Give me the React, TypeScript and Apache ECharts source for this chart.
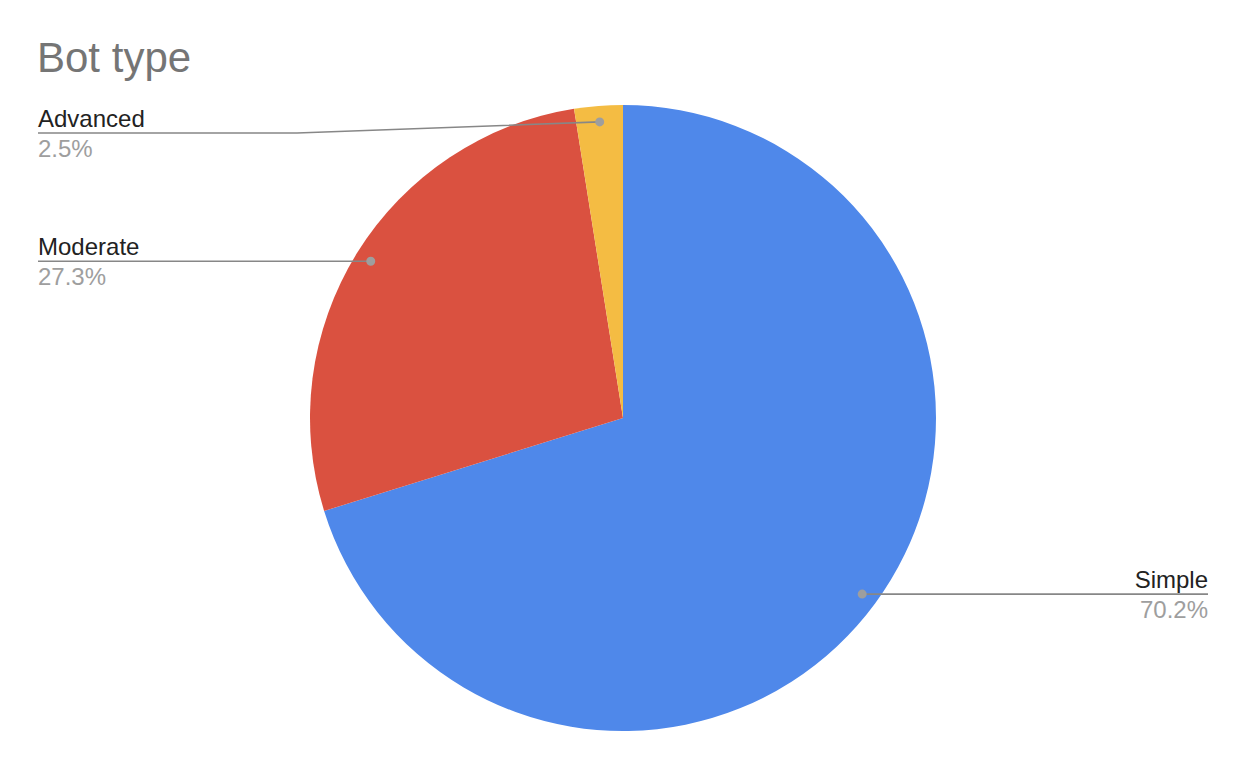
import React, { useEffect, useRef } from "react";
import * as echarts from "echarts";

const titleText = "Bot type";
const categories = ["Simple", "Moderate", "Advanced"];
const values = [70.2, 27.3, 2.5];
const colors = ["#4F88EA", "#DA5140", "#F4BC43"];

const CX = 623;
const CY = 418;
const R = 313;
const DOT_R = 297;
const LEFT_X = 38;
const RIGHT_X = 1208;
const MIN_LABEL_Y = 133;
const FONT = "Liberation Sans, Arial, sans-serif";

function dotPos(i: number) {
  const total = values.reduce((a, b) => a + b, 0);
  let cum = 0;
  for (let k = 0; k < i; k++) cum += values[k];
  const mid = (cum + values[i] / 2) / total;
  const th = mid * Math.PI * 2;
  return [CX + DOT_R * Math.sin(th), CY - DOT_R * Math.cos(th)];
}

export default function App() {
  const ref = useRef<HTMLDivElement>(null);
  useEffect(() => {
    if (!ref.current) return;
    const chart = echarts.init(ref.current, null, { renderer: "svg" });
    const plain = categories.map((name, i) => ({ name, value: values[i] }));
    const base = {
      type: "pie",
      center: [CX, CY],
      radius: [0, R],
      startAngle: 90,
      clockwise: true,
      avoidLabelOverlap: false,
      silent: true,
      emphasis: { disabled: true },
    };
    chart.setOption({
      animation: false,
      backgroundColor: "#ffffff",
      title: {
        text: titleText,
        left: 37,
        top: 36,
        padding: 0,
        textStyle: {
          fontFamily: FONT,
          fontSize: 42,
          fontWeight: "normal",
          color: "#757575",
        },
      },
      series: [
        {
          ...base,
          z: 1,
          itemStyle: { borderWidth: 0 },
          data: categories.map((name, i) => ({
            name,
            value: values[i],
            itemStyle: { color: colors[i] },
          })),
          label: { show: false },
          labelLine: { show: false },
        },
        {
          ...base,
          z: 5,
          itemStyle: { color: "rgba(0,0,0,0)", borderWidth: 0 },
          data: plain,
          label: {
            show: true,
            position: "outside",
            formatter: (p: any) => `{n|${p.name}}\n{p|${Number(p.percent).toFixed(1)}%}`,
            rich: {
              n: { fontFamily: FONT, fontSize: 24, color: "#222222", lineHeight: 30 },
              p: { fontFamily: FONT, fontSize: 24, color: "#9e9e9e", lineHeight: 30 },
            },
          },
          labelLine: {
            show: true,
            lineStyle: { color: "#878787", width: 1.6 },
          },
          labelLayout: (params: any) => {
            const [dx, dy] = dotPos(params.dataIndex);
            const left = dx < CX;
            const ly = Math.max(dy, MIN_LABEL_Y);
            const endX = left ? LEFT_X : RIGHT_X;
            const bendX = left ? Math.min(297, dx) : Math.max(950, dx);
            return {
              x: endX,
              y: ly,
              align: left ? "left" : "right",
              verticalAlign: "middle",
              labelLinePoints: [
                [dx, dy],
                [bendX, ly],
                [endX, ly],
              ],
            };
          },
        },
        {
          ...base,
          z: 6,
          itemStyle: { color: "rgba(0,0,0,0)", borderWidth: 0 },
          data: plain,
          label: {
            show: true,
            position: "outside",
            formatter: " ",
            fontSize: 1,
            width: 9,
            height: 9,
            padding: 0,
            borderRadius: 4.5,
            backgroundColor: "#9e9e9e",
          },
          labelLine: { show: false },
          labelLayout: (params: any) => {
            const [dx, dy] = dotPos(params.dataIndex);
            return { x: dx, y: dy, align: "center", verticalAlign: "middle" };
          },
        },
      ],
    });
    return () => chart.dispose();
  }, []);
  return (
    <div
      ref={ref}
      style={{ position: "absolute", left: 0, top: 0, width: 1244, height: 762 }}
    />
  );
}
